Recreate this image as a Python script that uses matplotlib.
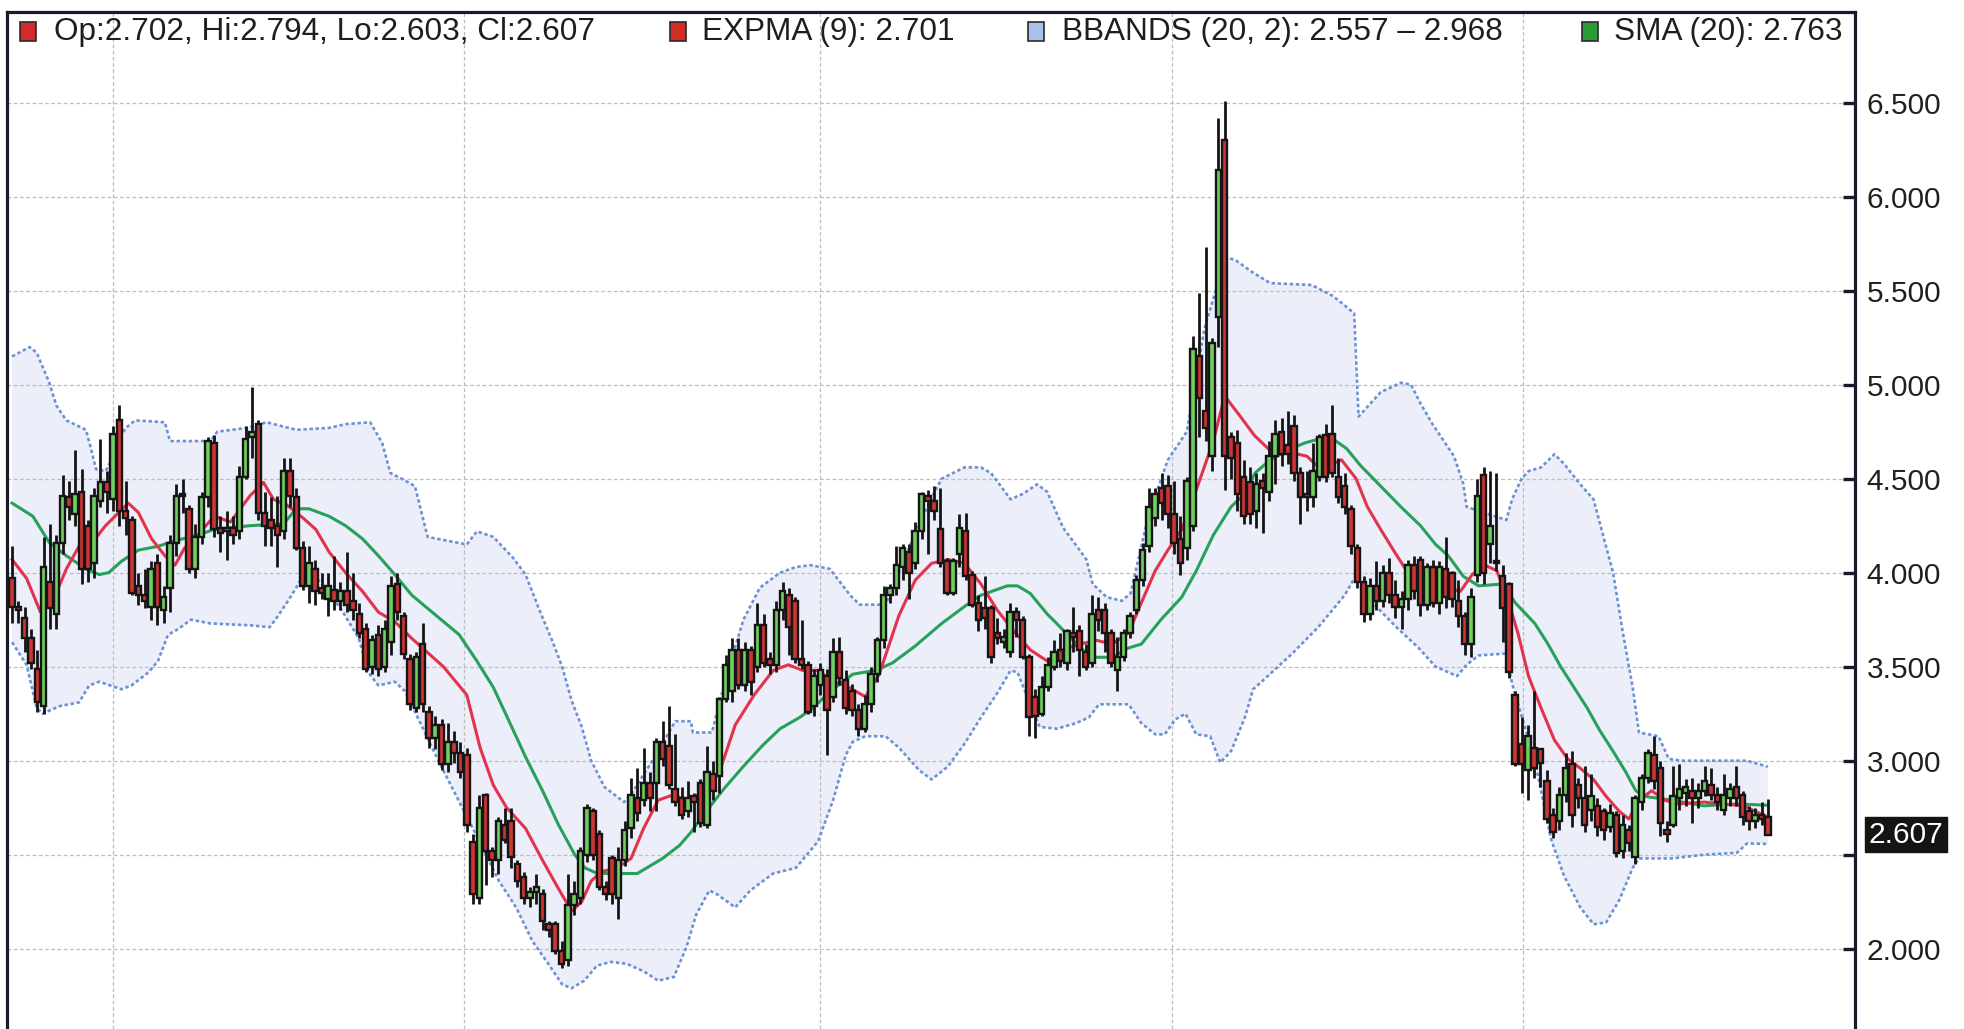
import numpy as np
import matplotlib
matplotlib.use("Agg")
import matplotlib.pyplot as plt
from matplotlib.font_manager import FontProperties
from matplotlib.patches import Rectangle
from matplotlib.transforms import blended_transform_factory

# daily candles (index = trading day)
opens = [
    3.97, 3.82, 3.76, 3.65, 3.49, 3.29, 3.95, 3.78, 4.16, 4.40,
    4.31, 4.43, 4.25, 4.05, 4.38, 4.48, 4.39, 4.81, 4.33, 4.28,
    3.93, 3.88, 3.82, 4.05, 3.80, 3.92, 4.16, 4.42, 4.34, 4.02,
    4.19, 4.40, 4.69, 4.24, 4.22, 4.24, 4.22, 4.51, 4.72, 4.79,
    4.32, 4.28, 4.25, 4.22, 4.54, 4.40, 4.13, 3.93, 4.02, 3.92,
    3.86, 3.91, 3.85, 3.90, 3.85, 3.78, 3.70, 3.50, 3.67, 3.50,
    3.63, 3.94, 3.77, 3.54, 3.28, 3.62, 3.26, 3.12, 3.19, 2.98,
    3.10, 3.04, 3.03, 2.57, 2.27, 2.82, 2.52, 2.47, 2.66, 2.68,
    2.45, 2.38, 2.27, 2.30, 2.29, 2.13, 2.13, 1.99, 1.94, 2.23,
    2.27, 2.50, 2.73, 2.61, 2.33, 2.48, 2.27, 2.47, 2.64, 2.80,
    2.79, 2.88, 2.88, 3.10, 3.08, 2.85, 2.80, 2.73, 2.81, 2.88,
    2.66, 2.93, 2.92, 3.33, 3.37, 3.59, 3.40, 3.59, 3.50, 3.72,
    3.54, 3.51, 3.80, 3.88, 3.85, 3.54, 3.51, 3.29, 3.40, 3.45,
    3.34, 3.58, 3.43, 3.37, 3.27, 3.17, 3.30, 3.46, 3.64, 3.88,
    3.92, 4.03, 4.11, 4.05, 4.22, 4.41, 4.38, 4.23, 4.06, 3.89,
    4.10, 4.22, 3.99, 3.84, 3.81, 3.81, 3.68, 3.63, 3.58, 3.79,
    3.75, 3.55, 3.34, 3.25, 3.39, 3.50, 3.59, 3.52, 3.68, 3.69,
    3.58, 3.52, 3.80, 3.80, 3.68, 3.48, 3.55, 3.68, 3.80, 3.96,
    4.14, 4.29, 4.45, 4.46, 4.31, 4.18, 4.13, 4.25, 5.15, 4.86,
    4.62, 5.36, 6.30, 4.72, 4.69, 4.51, 4.48, 4.33, 4.49, 4.43,
    4.62, 4.75, 4.68, 4.78, 4.53, 4.42, 4.40, 4.51, 4.73, 4.74,
    4.51, 4.46, 4.34, 4.13, 3.95, 3.78, 3.93, 3.85, 4.00, 3.88,
    3.82, 3.86, 4.04, 4.07, 3.83, 4.03, 3.84, 4.02, 4.00, 3.85,
    3.77, 3.62, 3.99, 4.52, 4.15, 4.06, 3.98, 3.94, 3.35, 3.09,
    2.95, 3.07, 3.06, 2.89, 2.71, 2.68, 2.82, 2.98, 2.87, 2.80,
    2.74, 2.76, 2.73, 2.65, 2.71, 2.52, 2.63, 2.49, 2.78, 2.91,
    3.03, 2.96, 2.63, 2.66, 2.80, 2.83, 2.84, 2.80, 2.84, 2.87,
    2.82, 2.74, 2.80, 2.86, 2.82, 2.73, 2.68, 2.71, 2.702,
]
highs = [
    4.14, 3.85, 3.82, 3.70, 3.59, 4.19, 4.26, 4.20, 4.52, 4.49,
    4.65, 4.55, 4.28, 4.45, 4.71, 4.54, 4.78, 4.89, 4.49, 4.30,
    4.00, 4.02, 4.06, 4.10, 3.93, 4.20, 4.47, 4.50, 4.36, 4.26,
    4.43, 4.72, 4.73, 4.30, 4.33, 4.30, 4.57, 4.78, 4.99, 4.81,
    4.43, 4.40, 4.41, 4.61, 4.61, 4.45, 4.17, 4.14, 4.07, 4.00,
    4.00, 4.09, 3.95, 4.11, 4.00, 3.84, 3.73, 3.67, 3.72, 3.75,
    3.98, 4.00, 3.79, 3.57, 3.58, 3.73, 3.29, 3.24, 3.22, 3.20,
    3.16, 3.10, 3.07, 2.61, 2.82, 2.83, 2.54, 2.70, 2.75, 2.75,
    2.47, 2.41, 2.33, 2.40, 2.32, 2.15, 2.15, 2.04, 2.40, 2.36,
    2.54, 2.77, 2.75, 2.63, 2.36, 2.50, 2.54, 2.68, 2.91, 2.96,
    3.07, 2.94, 3.12, 3.21, 3.29, 3.14, 2.86, 2.89, 2.83, 2.90,
    3.08, 3.00, 3.34, 3.56, 3.65, 3.65, 3.63, 3.61, 3.84, 3.78,
    3.58, 3.85, 3.95, 3.92, 3.87, 3.75, 3.53, 3.49, 3.52, 3.49,
    3.65, 3.66, 3.48, 3.41, 3.30, 3.35, 3.50, 3.66, 3.93, 3.94,
    4.14, 4.15, 4.15, 4.27, 4.43, 4.44, 4.46, 4.45, 4.08, 4.08,
    4.31, 4.32, 4.01, 3.88, 3.98, 3.83, 3.76, 3.70, 3.84, 3.82,
    3.77, 3.57, 3.38, 3.45, 3.55, 3.64, 3.68, 3.70, 3.82, 3.72,
    3.62, 3.88, 3.87, 3.84, 3.70, 3.66, 3.70, 3.79, 3.99, 4.16,
    4.45, 4.45, 4.53, 4.52, 4.49, 4.30, 4.51, 5.26, 5.49, 5.73,
    5.25, 6.42, 6.51, 4.75, 4.76, 4.60, 4.56, 4.53, 4.53, 4.70,
    4.81, 4.82, 4.86, 4.84, 4.56, 4.54, 4.69, 4.74, 4.79, 4.89,
    4.61, 4.53, 4.36, 4.15, 3.98, 3.97, 4.06, 4.04, 4.08, 3.96,
    3.90, 4.07, 4.09, 4.09, 4.05, 4.07, 4.06, 4.19, 4.01, 3.96,
    3.79, 3.92, 4.50, 4.56, 4.54, 4.53, 4.04, 3.95, 3.37, 3.23,
    3.19, 3.37, 3.07, 2.95, 2.75, 2.86, 3.04, 3.05, 2.91, 2.97,
    2.93, 2.80, 2.75, 2.77, 2.73, 2.71, 2.66, 2.82, 2.93, 3.06,
    3.13, 3.00, 2.68, 2.97, 2.98, 2.90, 2.91, 2.88, 2.97, 2.96,
    2.86, 2.93, 2.88, 2.97, 2.84, 2.76, 2.75, 2.78, 2.794,
]
lows = [
    3.73, 3.73, 3.58, 3.49, 3.26, 3.25, 3.70, 3.70, 4.10, 4.28,
    4.25, 3.94, 3.95, 3.97, 4.35, 4.32, 4.33, 4.25, 4.20, 3.88,
    3.83, 3.81, 3.75, 3.72, 3.73, 3.79, 4.09, 4.32, 4.00, 3.97,
    4.15, 4.35, 4.19, 4.11, 4.07, 4.15, 4.18, 4.50, 4.61, 4.28,
    4.14, 4.14, 4.03, 4.18, 4.35, 4.12, 3.91, 3.84, 3.83, 3.86,
    3.77, 3.80, 3.80, 3.79, 3.75, 3.65, 3.47, 3.46, 3.45, 3.47,
    3.56, 3.75, 3.54, 3.27, 3.26, 3.26, 3.07, 3.06, 2.95, 2.94,
    2.99, 2.91, 2.62, 2.24, 2.24, 2.34, 2.38, 2.40, 2.56, 2.43,
    2.33, 2.24, 2.22, 2.24, 2.10, 2.06, 1.97, 1.90, 1.91, 2.18,
    2.24, 2.46, 2.47, 2.31, 2.26, 2.24, 2.16, 2.44, 2.59, 2.68,
    2.76, 2.73, 2.73, 2.97, 2.85, 2.76, 2.69, 2.70, 2.62, 2.65,
    2.64, 2.79, 2.83, 3.31, 3.31, 3.38, 3.37, 3.35, 3.47, 3.50,
    3.46, 3.47, 3.75, 3.56, 3.52, 3.49, 3.25, 3.24, 3.35, 3.03,
    3.31, 3.40, 3.25, 3.24, 3.13, 3.15, 3.26, 3.42, 3.60, 3.84,
    3.88, 3.96, 3.86, 4.02, 4.18, 4.10, 4.28, 4.03, 3.88, 3.88,
    4.03, 3.96, 3.82, 3.69, 3.70, 3.52, 3.62, 3.60, 3.55, 3.66,
    3.54, 3.13, 3.12, 3.24, 3.37, 3.48, 3.50, 3.48, 3.58, 3.45,
    3.48, 3.50, 3.69, 3.58, 3.50, 3.37, 3.53, 3.65, 3.78, 3.93,
    4.11, 4.25, 4.28, 4.24, 4.10, 3.99, 4.07, 4.22, 4.72, 4.70,
    4.54, 5.20, 4.44, 4.50, 4.33, 4.26, 4.26, 4.24, 4.21, 4.38,
    4.47, 4.57, 4.58, 4.49, 4.26, 4.33, 4.35, 4.49, 4.48, 4.51,
    4.37, 4.31, 4.10, 3.92, 3.74, 3.75, 3.80, 3.82, 3.84, 3.76,
    3.70, 3.80, 3.86, 3.77, 3.80, 3.82, 3.78, 3.81, 3.82, 3.71,
    3.56, 3.55, 3.95, 3.94, 4.05, 4.01, 3.63, 3.44, 2.97, 2.83,
    2.79, 2.91, 2.86, 2.67, 2.59, 2.63, 2.78, 2.65, 2.75, 2.62,
    2.68, 2.60, 2.58, 2.62, 2.49, 2.48, 2.52, 2.45, 2.74, 2.88,
    2.85, 2.60, 2.57, 2.65, 2.74, 2.76, 2.67, 2.75, 2.81, 2.79,
    2.74, 2.71, 2.76, 2.76, 2.66, 2.63, 2.64, 2.66, 2.603,
]
closes = [
    3.82, 3.80, 3.65, 3.52, 3.31, 4.03, 3.81, 4.16, 4.41, 4.35,
    4.42, 4.02, 4.02, 4.41, 4.48, 4.43, 4.74, 4.33, 4.29, 3.89,
    3.88, 3.85, 4.02, 3.82, 3.87, 4.16, 4.41, 4.41, 4.02, 4.19,
    4.40, 4.70, 4.23, 4.21, 4.24, 4.20, 4.51, 4.71, 4.75, 4.32,
    4.25, 4.24, 4.20, 4.54, 4.41, 4.13, 3.93, 4.05, 3.90, 3.89,
    3.93, 3.85, 3.90, 3.83, 3.80, 3.68, 3.49, 3.64, 3.49, 3.70,
    3.93, 3.79, 3.57, 3.30, 3.55, 3.30, 3.12, 3.19, 2.98, 3.10,
    3.04, 2.94, 2.66, 2.29, 2.75, 2.52, 2.47, 2.68, 2.58, 2.49,
    2.36, 2.27, 2.30, 2.33, 2.15, 2.10, 1.99, 1.92, 2.23, 2.29,
    2.52, 2.75, 2.50, 2.33, 2.29, 2.29, 2.47, 2.63, 2.82, 2.72,
    2.88, 2.80, 3.10, 3.01, 2.87, 2.78, 2.71, 2.80, 2.78, 2.67,
    2.94, 2.84, 3.33, 3.51, 3.59, 3.40, 3.59, 3.42, 3.72, 3.52,
    3.51, 3.80, 3.90, 3.71, 3.54, 3.51, 3.26, 3.45, 3.48, 3.27,
    3.58, 3.44, 3.28, 3.27, 3.17, 3.30, 3.46, 3.64, 3.88, 3.92,
    4.04, 4.13, 4.00, 4.22, 4.42, 4.38, 4.33, 4.05, 3.89, 4.06,
    4.24, 3.98, 3.83, 3.75, 3.76, 3.55, 3.65, 3.66, 3.79, 3.75,
    3.55, 3.23, 3.24, 3.39, 3.51, 3.58, 3.53, 3.69, 3.66, 3.59,
    3.50, 3.78, 3.75, 3.68, 3.52, 3.55, 3.68, 3.77, 3.96, 4.12,
    4.35, 4.42, 4.37, 4.31, 4.16, 4.05, 4.49, 5.19, 4.93, 4.77,
    5.22, 6.14, 4.62, 4.61, 4.42, 4.30, 4.31, 4.47, 4.45, 4.62,
    4.74, 4.63, 4.63, 4.53, 4.40, 4.40, 4.54, 4.72, 4.51, 4.53,
    4.40, 4.35, 4.14, 3.95, 3.78, 3.93, 3.85, 4.00, 3.88, 3.82,
    3.86, 4.04, 3.90, 3.83, 4.03, 3.84, 4.03, 3.87, 3.86, 3.77,
    3.62, 3.87, 4.41, 4.00, 4.25, 4.05, 3.81, 3.47, 2.98, 2.98,
    3.13, 2.96, 2.99, 2.69, 2.62, 2.82, 2.96, 2.71, 2.80, 2.66,
    2.81, 2.65, 2.63, 2.72, 2.51, 2.66, 2.56, 2.80, 2.91, 3.04,
    2.89, 2.67, 2.61, 2.81, 2.85, 2.86, 2.80, 2.84, 2.89, 2.82,
    2.78, 2.82, 2.85, 2.80, 2.70, 2.68, 2.71, 2.69, 2.607,
]

# indicator lines (day index, price)
upper_x = [0, 2.8, 3.9, 5.9, 7.0, 8.6, 11.7, 12.5, 13.3, 14.8, 15.6, 16.9, 18.0, 19.5,
           24.2, 25.0, 31.4, 32.5, 37.2, 40.3, 45.0, 50.2, 52.8, 56.7, 58.6, 59.9, 61.7,
           63.8, 64.9, 65.8, 72.0, 73.6, 76.2, 79.3, 81.3, 83.4, 85.5, 87.1, 88.6, 90.2,
           91.7, 93.8, 96.9, 98.0, 102.3, 105.0, 107.5, 107.8, 110.8, 113.1, 115.8, 118.4,
           121.6, 124.1, 126.4, 129.5, 132.7, 134.2, 138.3, 143.0, 145.6, 147.2, 150.8,
           153.4, 155.0, 158.1, 160.1, 162.3, 163.9, 166.4, 168.6, 170.1, 171.1, 173.3,
           175.7, 177.1, 179.9, 183.0, 186.0, 188.8, 192.2, 193.8, 196.3, 199.2, 205.8,
           209.2, 212.5, 213.2, 216.7, 219.9, 221.5, 223.0, 224.9, 228.3, 229.8, 230.3,
           236.6, 237.5, 239.0, 240.1, 242.1, 244.2, 245.7, 248.3, 250.4, 251.9, 253.5,
           255.0, 256.6, 257.6, 260.7, 262.3, 264.3, 274.7, 278]
upper_y = [5.15, 5.20, 5.17, 5.01, 4.89, 4.81, 4.76, 4.66, 4.55, 4.54, 4.59, 4.71, 4.77, 4.81,
           4.80, 4.70, 4.70, 4.75, 4.77, 4.80, 4.76, 4.77, 4.79, 4.80, 4.69, 4.53, 4.50,
           4.46, 4.31, 4.19, 4.15, 4.22, 4.19, 4.08, 3.99, 3.81, 3.64, 3.50, 3.32, 3.18,
           3.00, 2.86, 2.78, 2.82, 3.05, 3.21, 3.21, 3.15, 3.15, 3.45, 3.75, 3.92,
           4.00, 4.03, 4.04, 4.02, 3.88, 3.83, 3.83, 4.21, 4.40, 4.50, 4.56,
           4.56, 4.53, 4.39, 4.42, 4.47, 4.43, 4.24, 4.14, 4.07, 3.94, 3.87,
           3.85, 3.89, 4.30, 4.60, 4.75, 5.30, 5.68, 5.66, 5.60, 5.54, 5.53,
           5.47, 5.38, 4.83, 4.96, 5.01, 5.00, 4.90, 4.79, 4.62, 4.47, 4.35,
           4.28, 4.39, 4.50, 4.54, 4.56, 4.63, 4.58, 4.47, 4.39, 4.20, 4.00,
           3.69, 3.39, 3.15, 3.13, 3.01, 3.00, 3.00, 2.968]
lower_x = [0, 2.3, 3.9, 4.8, 7.5, 10.6, 12.2, 13.8, 17.3, 18.9, 21.6, 23.1, 24.7, 26.3,
           28.3, 31.4, 37.7, 40.8, 41.9, 43.5, 45.0, 46.1, 48.5, 50.5, 52.4, 54.9, 56.4,
           58.0, 60.6, 62.2, 63.8, 67.5, 72.8, 77.1, 79.8, 82.4, 84.9, 87.1, 88.6, 90.6,
           92.6, 94.8, 97.3, 100.0, 102.3, 104.8, 106.8, 108.3, 110.4, 111.6, 114.5, 116.9,
           120.5, 124.1, 127.6, 130.0, 132.0, 133.1, 135.1, 138.3, 140.4, 143.6, 145.6,
           148.2, 150.8, 153.4, 156.0, 158.1, 159.2, 161.2, 162.7, 165.4, 168.5, 170.5,
           172.1, 176.8, 178.8, 181.0, 182.5, 184.2, 185.8, 187.5, 189.7, 191.3, 193.0,
           195.2, 196.5, 198.5, 202.7, 206.8, 211.0, 212.7, 215.1, 219.2, 222.7, 225.4,
           228.8, 230.3, 232.2, 236.6, 237.5, 241.1, 243.7, 245.7, 248.3, 250.4, 252.4,
           254.5, 256.6, 257.6, 262.8, 267.9, 273.1, 274.7, 278]
lower_y = [3.63, 3.51, 3.28, 3.25, 3.29, 3.31, 3.40, 3.42, 3.38, 3.40, 3.47, 3.53, 3.67, 3.70,
           3.75, 3.73, 3.72, 3.71, 3.76, 3.84, 3.92, 3.99, 3.96, 3.88, 3.79, 3.65, 3.47,
           3.40, 3.42, 3.37, 3.26, 3.00, 2.65, 2.36, 2.22, 2.04, 1.92, 1.81, 1.79, 1.83,
           1.91, 1.93, 1.92, 1.88, 1.83, 1.85, 2.01, 2.18, 2.31, 2.29, 2.22, 2.31,
           2.40, 2.43, 2.57, 2.79, 3.03, 3.10, 3.13, 3.13, 3.07, 2.95, 2.90,
           2.97, 3.09, 3.23, 3.36, 3.48, 3.47, 3.30, 3.18, 3.17, 3.20, 3.23,
           3.30, 3.30, 3.20, 3.14, 3.14, 3.22, 3.25, 3.14, 3.13, 2.99, 3.05,
           3.23, 3.38, 3.44, 3.57, 3.71, 3.88, 3.98, 3.85, 3.71, 3.60, 3.50,
           3.45, 3.51, 3.56, 3.57, 3.41, 3.00, 2.58, 2.39, 2.22, 2.13, 2.14,
           2.26, 2.43, 2.48, 2.48, 2.50, 2.51, 2.56, 2.557]
sma_x = [0, 3.3, 5.9, 8.6, 11.7, 13.8, 15.3, 17.3, 20.0, 23.1, 25.8, 29.4, 32.0, 37.7,
         43.0, 45.0, 47.0, 50.2, 52.8, 55.5, 58.0, 60.6, 63.3, 70.8, 73.6, 76.2, 78.7,
         81.3, 84.0, 86.5, 89.1, 90.7, 92.7, 99.0, 103.0, 105.7, 107.5, 109.9, 112.7,
         115.8, 118.8, 121.6, 124.7, 126.4, 130.0, 133.1, 136.7, 139.4, 143.0, 147.2,
         150.8, 153.4, 157.6, 159.2, 161.2, 163.9, 165.4, 167.4, 169.5, 171.7, 174.2,
         176.8, 178.8, 181.9, 185.2, 187.5, 190.2, 193.0, 195.2, 196.8, 199.2, 202.5,
         204.7, 206.8, 209.2, 211.3, 213.5, 216.7, 219.9, 223.0, 225.4, 227.4, 229.8,
         232.2, 236.1, 238.0, 241.1, 243.2, 245.2, 247.3, 249.4, 251.4, 253.5, 255.5,
         257.1, 258.6, 262.8, 267.9, 273.1, 278]
sma_y = [4.37, 4.30, 4.16, 4.09, 4.02, 3.99, 4.00, 4.06, 4.12, 4.14, 4.17, 4.20, 4.23, 4.25,
         4.26, 4.34, 4.34, 4.30, 4.25, 4.18, 4.09, 3.99, 3.88, 3.67, 3.53, 3.39, 3.21,
         3.02, 2.84, 2.66, 2.50, 2.43, 2.40, 2.40, 2.48, 2.55, 2.62, 2.73, 2.85,
         2.97, 3.08, 3.17, 3.23, 3.27, 3.38, 3.46, 3.48, 3.52, 3.61, 3.73,
         3.82, 3.88, 3.93, 3.93, 3.89, 3.78, 3.73, 3.66, 3.59, 3.55, 3.55,
         3.60, 3.62, 3.75, 3.87, 4.01, 4.20, 4.35, 4.42, 4.53, 4.60, 4.66,
         4.69, 4.71, 4.71, 4.66, 4.57, 4.46, 4.35, 4.25, 4.15, 4.09, 3.98,
         3.93, 3.94, 3.84, 3.73, 3.62, 3.50, 3.39, 3.28, 3.16, 3.05, 2.94,
         2.84, 2.81, 2.79, 2.76, 2.77, 2.763]
ema_x = [0, 2.3, 4.5, 6.6, 8.6, 10.6, 12.7, 14.8, 16.9, 18.4, 20.0, 22.1, 24.2, 25.8,
         27.3, 29.4, 32.0, 34.6, 37.7, 39.8, 41.4, 43.5, 46.1, 48.1, 50.2, 52.8, 55.5,
         58.0, 60.6, 63.3, 68.3, 72.0, 74.1, 76.2, 78.3, 81.3, 84.0, 86.5, 88.6, 90.2,
         91.7, 93.3, 95.8, 98.0, 100.0, 102.3, 104.8, 106.5, 107.8, 110.4, 112.2, 114.5,
         117.5, 120.5, 122.9, 125.2, 127.7, 130.0, 132.0, 135.1, 137.3, 140.4, 143.0,
         145.6, 148.2, 150.8, 153.4, 156.0, 158.6, 161.2, 163.9, 166.4, 169.0, 171.7,
         174.2, 176.8, 178.8, 181.0, 183.0, 185.2, 187.5, 190.2, 192.0, 194.5, 196.7,
         199.5, 202.2, 205.0, 207.2, 210.5, 212.8, 214.6, 216.7, 218.9, 221.0, 222.5,
         227.4, 229.3, 231.2, 233.2, 235.1, 237.0, 238.5, 240.1, 242.1, 244.2, 246.3,
         248.3, 250.4, 252.4, 254.5, 256.0, 257.6, 259.6, 261.7, 263.8, 267.9, 274.1, 278]
ema_y = [4.07, 3.97, 3.79, 3.86, 4.02, 4.14, 4.16, 4.25, 4.32, 4.37, 4.32, 4.18, 4.09, 4.04,
         4.13, 4.20, 4.30, 4.27, 4.41, 4.48, 4.39, 4.36, 4.29, 4.23, 4.11, 4.00, 3.90,
         3.79, 3.74, 3.65, 3.50, 3.35, 3.07, 2.87, 2.75, 2.64, 2.47, 2.32, 2.20, 2.25,
         2.36, 2.41, 2.43, 2.48, 2.64, 2.79, 2.82, 2.79, 2.80, 2.86, 2.96, 3.19,
         3.35, 3.48, 3.51, 3.48, 3.48, 3.42, 3.40, 3.34, 3.46, 3.77, 3.96,
         4.05, 4.07, 4.05, 3.94, 3.80, 3.69, 3.59, 3.53, 3.59, 3.62, 3.64,
         3.62, 3.68, 3.84, 4.01, 4.12, 4.23, 4.44, 4.70, 4.94, 4.83, 4.73,
         4.64, 4.64, 4.62, 4.55, 4.60, 4.50, 4.35, 4.23, 4.11, 4.00, 3.94,
         3.92, 3.90, 3.99, 4.04, 4.01, 3.84, 3.67, 3.45, 3.28, 3.11, 3.01,
         2.96, 2.90, 2.81, 2.73, 2.69, 2.79, 2.84, 2.79, 2.77, 2.78, 2.76, 2.701]

price_ticks = [2.0, 2.5, 3.0, 3.5, 4.0, 4.5, 5.0, 5.5, 6.0, 6.5]
quarter_marks = [16, 71.5, 128, 183.6, 239.2]
last_price = 2.607

legend_labels = ["Op:2.702, Hi:2.794, Lo:2.603, Cl:2.607", "EXPMA (9): 2.701",
                 "BBANDS (20, 2): 2.557 \u2013 2.968", "SMA (20): 2.763"]
legend_colors = ["#d42b2b", "#d42b2b", "#a8c2ea", "#2a9b3a"]
legend_box_px = [20, 670, 1028, 1582]
legend_text_px = [54, 702, 1062, 1614]

leg_font = FontProperties(family="Liberation Sans", size=22.7)
tick_font = FontProperties(family="Liberation Sans", size=21.5)

W, H = 1965, 1029
fig = plt.figure(figsize=(W / 100, H / 100), dpi=100)
fig.patch.set_facecolor("white")
ax = fig.add_axes([7 / W, 0, 1848 / W, (H - 12) / H])

o = np.array(opens)
h = np.array(highs)
l = np.array(lows)
c = np.array(closes)
x = np.arange(len(o))
up = c >= o

# bollinger band fill and dotted edges
ax.fill(np.concatenate([upper_x, lower_x[::-1]]),
        np.concatenate([upper_y, lower_y[::-1]]),
        color="#eceff9", lw=0, zorder=0.2)
ax.plot(upper_x, upper_y, color="#6d92d4", lw=1.9, ls=(0, (1.3, 1.0)), zorder=2)
ax.plot(lower_x, lower_y, color="#6d92d4", lw=1.9, ls=(0, (1.3, 1.0)), zorder=2)
ax.plot(sma_x, sma_y, color="#27a05a", lw=2.2, zorder=3)
ax.plot(ema_x, ema_y, color="#e3324c", lw=2.2, zorder=3)

ax.vlines(x, l, h, color="#151515", lw=2.0, zorder=4)
body_lo = np.minimum(o, c)
body_h = np.maximum(np.abs(c - o), 0.008)
ax.bar(x, body_h, bottom=body_lo, width=0.86,
       color=np.where(up, "#6fcf5f", "#cf3434"),
       edgecolor="#151515", linewidth=1.7, zorder=5)

ax.set_xlim(-0.8, 291.8)
ax.set_ylim(1.573, 6.982)

ax.set_axisbelow(True)
ax.set_xticks(quarter_marks)
ax.tick_params(axis="x", length=0, labelbottom=False)
ax.xaxis.grid(True, color="#bdbdbd", lw=0.9, ls=(0, (3, 2)))
ax.yaxis.tick_right()
ax.set_yticks(price_ticks)
ax.set_yticklabels(["" if abs(v - 2.5) < 1e-9 else f"{v:.3f}" for v in price_ticks],
                   fontproperties=tick_font)
ax.tick_params(axis="y", direction="in", length=9, width=2.4, color="#1a1a2a",
               pad=8.5, labelcolor="#202020")
ax.yaxis.grid(True, color="#bdbdbd", lw=0.9, ls=(0, (3, 2)))

for side in ["left", "right", "top"]:
    ax.spines[side].set_color("#1a1a2a")
    ax.spines[side].set_linewidth(2.3)
ax.spines["bottom"].set_visible(False)

# current price tag on the axis
tr = blended_transform_factory(ax.transAxes, ax.transData)
ax.text(1.0075, last_price, f"{last_price:.3f}", transform=tr, color="white",
        fontproperties=tick_font, va="center", ha="left", clip_on=False,
        bbox=dict(boxstyle="square,pad=0.12", fc="#141414", ec="#141414"))

# legend row along the top
ytxt = 1 - 32 / H
for lab, col, bx, tx in zip(legend_labels, legend_colors, legend_box_px, legend_text_px):
    fig.patches.append(Rectangle((bx / W, 1 - 41 / H), 16 / W, 19 / H,
                                 transform=fig.transFigure, facecolor=col,
                                 edgecolor="#2a2a2a", linewidth=1.2))
    fig.text(tx / W, ytxt, lab, fontproperties=leg_font, color="#1e1e1e",
             va="center", ha="left")

fig.savefig("out.png", dpi=100, facecolor="white")
